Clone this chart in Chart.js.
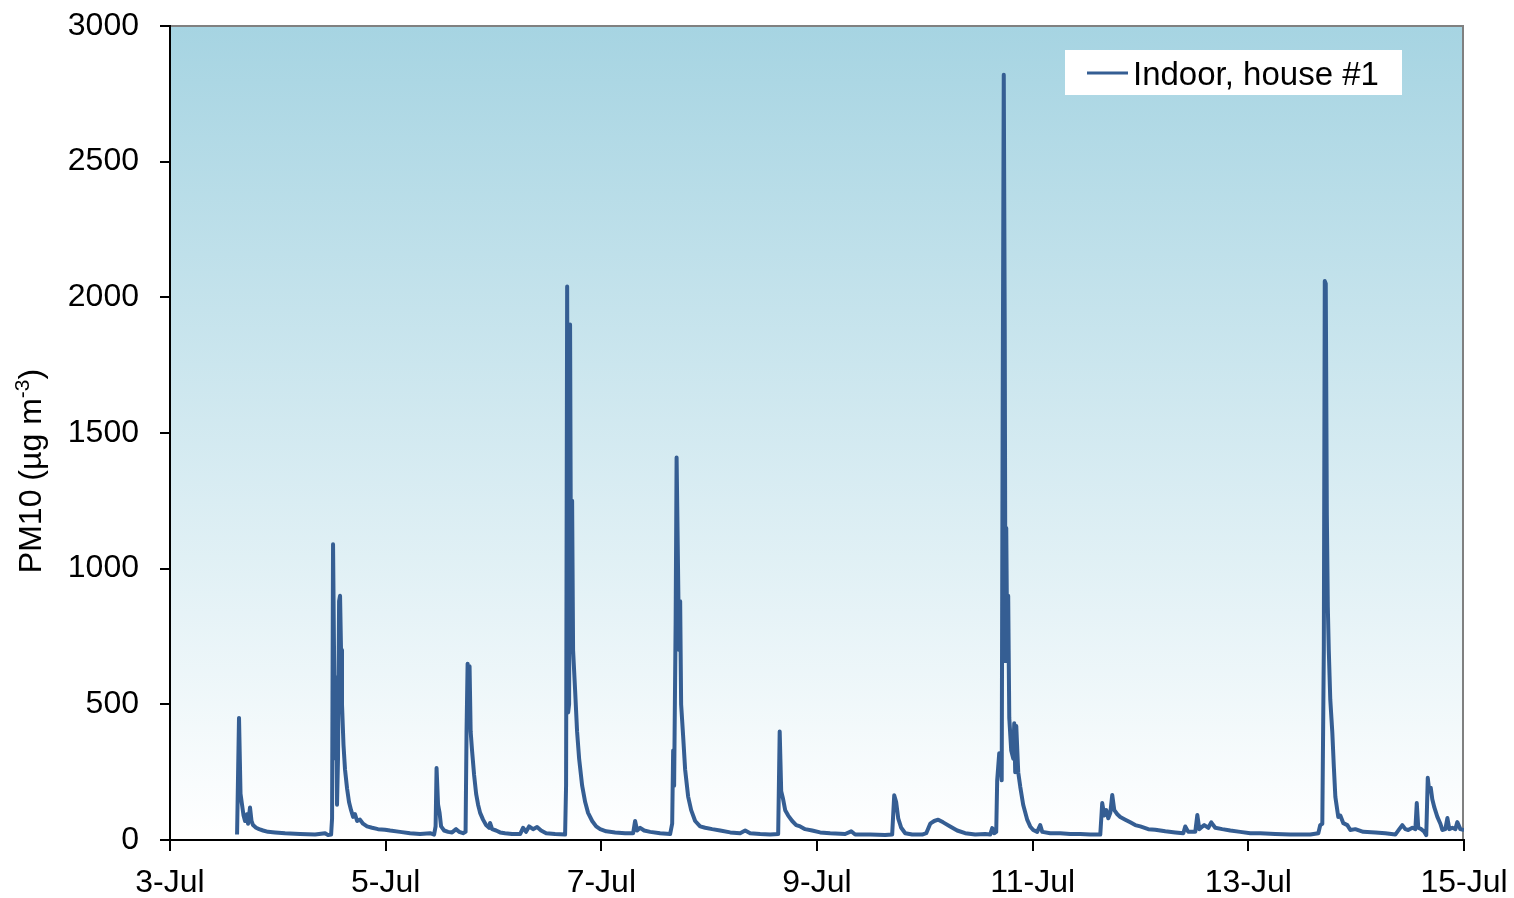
<!DOCTYPE html>
<html lang="en">
<head>
  <meta charset="UTF-8">
  <title>PM10 indoor, house #1</title>
  <script src="https://cdn.jsdelivr.net/npm/chart.js@4.4.1/dist/chart.umd.min.js"></script>
  <style>
    html, body { margin: 0; padding: 0; background: #fff; }
    #wrap { width: 1514px; height: 898px; }
  </style>
</head>
<body>
  <div id="wrap">
    <canvas id="pmChart" width="1514" height="898"></canvas>
  </div>
  <script>
    // time in days since 3-Jul 00:00, PM10 in ug/m3
    const days = [
      0.622, 0.640, 0.654, 0.668, 0.682, 0.696, 0.714, 0.724, 0.742, 0.756, 0.770, 0.798, 0.826, 0.863, 0.909, 0.974,
      1.067, 1.206, 1.345, 1.438, 1.466, 1.494, 1.503, 1.512, 1.521, 1.531, 1.540, 1.549, 1.558, 1.568, 1.577, 1.586,
      1.595, 1.609, 1.623, 1.642, 1.660, 1.679, 1.698, 1.716, 1.735, 1.762, 1.790, 1.827, 1.874, 1.929, 1.994,
      2.041, 2.133, 2.226, 2.319, 2.412, 2.449, 2.463, 2.472, 2.486, 2.500, 2.514, 2.542, 2.579, 2.616, 2.653, 2.681,
      2.718, 2.741, 2.750, 2.760, 2.769, 2.778, 2.788, 2.801, 2.820, 2.839, 2.857, 2.876, 2.903, 2.931, 2.959, 2.968,
      2.987, 3.024, 3.061, 3.107, 3.172, 3.247, 3.274, 3.302, 3.330, 3.367, 3.404, 3.441, 3.488, 3.571, 3.664,
      3.673, 3.683, 3.692, 3.701, 3.710, 3.720, 3.729, 3.738, 3.757, 3.775, 3.794, 3.822, 3.850, 3.877, 3.915, 3.952,
      3.989, 4.045, 4.128, 4.221, 4.295, 4.313, 4.332, 4.360, 4.397, 4.453, 4.545, 4.638, 4.657,
      4.666, 4.675, 4.689, 4.698, 4.708, 4.721, 4.731, 4.740, 4.759, 4.777, 4.805, 4.833, 4.870, 4.916, 4.963,
      5.028, 5.102, 5.195, 5.287, 5.334, 5.380, 5.473, 5.566, 5.640,
      5.654, 5.668, 5.686, 5.705, 5.733, 5.770, 5.807, 5.844, 5.890, 5.955, 6.029, 6.122, 6.261, 6.317, 6.354,
      6.493, 6.632, 6.697, 6.716, 6.734, 6.753, 6.781, 6.818, 6.883, 6.976, 7.013, 7.050, 7.087, 7.124, 7.170,
      7.235, 7.300, 7.374, 7.467, 7.560, 7.606, 7.625, 7.643, 7.662,
      7.671, 7.690, 7.704, 7.713, 7.722, 7.732, 7.741, 7.748, 7.755, 7.764, 7.773, 7.783, 7.801, 7.820, 7.829,
      7.838, 7.848, 7.866, 7.885, 7.912, 7.950, 7.977, 8.005, 8.042, 8.070, 8.089, 8.163, 8.256, 8.348, 8.441,
      8.534, 8.627, 8.645, 8.664, 8.683, 8.701, 8.720, 8.738, 8.757, 8.785, 8.812, 8.859, 8.905, 8.951, 8.998,
      9.072, 9.137, 9.230, 9.322, 9.397, 9.415, 9.443, 9.508, 9.527, 9.545, 9.591, 9.629, 9.656, 9.693, 9.758,
      9.833, 9.925, 10.018, 10.111, 10.250, 10.389, 10.482, 10.575, 10.649,
      10.667, 10.686, 10.700, 10.709, 10.718, 10.728, 10.737, 10.746, 10.760, 10.779, 10.793, 10.807, 10.834,
      10.853, 10.881, 10.918, 10.946, 10.992, 11.066, 11.178, 11.270, 11.363, 11.400, 11.428, 11.456, 11.483,
      11.521, 11.549, 11.562, 11.576, 11.604, 11.632, 11.650, 11.664, 11.678, 11.692, 11.706, 11.725, 11.753,
      11.781, 11.799, 11.827, 11.846, 11.864, 11.892, 11.920, 11.938, 11.966, 12.000
    ];
    const pm10 = [
      20, 450, 170, 130, 90, 70, 95, 60, 120, 70, 55, 45, 40, 35, 30, 28,
      25, 22, 20, 25, 18, 20, 80, 1090, 700, 300, 600, 130, 300, 880, 900, 700,
      500, 350, 260, 190, 140, 110, 85, 95, 70, 75, 60, 50, 45, 40, 38,
      35, 30, 25, 22, 25, 20, 50, 265, 130, 100, 50, 35, 30, 28, 40, 30,
      25, 30, 400, 650, 520, 640, 400, 330, 240, 170, 130, 100, 75, 55, 45, 63,
      40, 35, 28, 25, 22, 22, 45, 30, 50, 40, 48, 35, 25, 22, 20,
      200, 2040, 470, 500, 1900, 800, 1250, 700, 550, 400, 300, 200, 140, 100, 70, 50,
      40, 32, 28, 25, 25, 70, 35, 45, 35, 30, 25, 22, 60,
      330, 200, 800, 1410, 1100, 700, 880, 500, 380, 260, 160, 110, 70, 50, 45,
      40, 35, 28, 25, 35, 25, 22, 20, 22,
      400, 180, 150, 110, 90, 70, 55, 50, 40, 35, 28, 25, 22, 32, 20,
      20, 18, 20, 165, 140, 80, 45, 25, 20, 20, 25, 60, 70, 75, 65,
      50, 35, 25, 20, 22, 20, 44, 25, 30,
      220, 320, 290, 220, 1600, 2820, 1880, 660, 1150, 700, 900, 450, 330, 300, 430,
      250, 420, 250, 196, 130, 74, 50, 37, 30, 55, 30, 25, 25, 22, 22,
      20, 20, 136, 90, 110, 80, 100, 166, 110, 95, 85, 75, 65, 55, 50,
      40, 38, 32, 28, 25, 50, 30, 30, 92, 40, 55, 45, 65, 45, 40,
      35, 30, 25, 25, 22, 20, 20, 20, 25,
      55, 60, 700, 2060, 2050, 1200, 860, 700, 517, 395, 270, 159, 85,
      90, 62, 55, 37, 40, 30, 28, 25, 20, 40, 55, 40, 37,
      45, 40, 136, 45, 40, 30, 18, 229, 180, 192, 150, 120, 85,
      60, 37, 40, 81, 40, 45, 40, 66, 40, 37
    ];
    const dayTicks = ['3-Jul', '5-Jul', '7-Jul', '9-Jul', '11-Jul', '13-Jul', '15-Jul'];
    const seriesLabel = 'Indoor, house #1';

    const FONT = '"Liberation Sans", Arial, sans-serif';
    const lineColor = '#355e93';

    // gradient fill + grey frame on top/right of the plot area
    const plotBackground = {
      id: 'plotBackground',
      beforeDraw(chart) {
        const { ctx, chartArea: a } = chart;
        const g = ctx.createLinearGradient(0, a.top, 0, a.bottom);
        g.addColorStop(0, '#a6d4e2');
        g.addColorStop(1, '#ffffff');
        ctx.save();
        ctx.fillStyle = g;
        ctx.fillRect(a.left, a.top, a.right - a.left, a.bottom - a.top);
        ctx.strokeStyle = '#808080';
        ctx.lineWidth = 2;
        ctx.beginPath();
        ctx.moveTo(a.left, a.top);
        ctx.lineTo(a.right - 1, a.top);
        ctx.lineTo(a.right - 1, a.bottom);
        ctx.stroke();
        ctx.restore();
      }
    };

    // y title with superscript, and the boxed legend in the upper right
    const extras = {
      id: 'extras',
      afterDraw(chart) {
        const { ctx } = chart;
        ctx.save();
        // axis title
        ctx.translate(41, 471);
        ctx.rotate(-Math.PI / 2);
        ctx.fillStyle = '#000';
        ctx.textBaseline = 'alphabetic';
        const main = 'PM10 (\u00b5g m';
        const sup = '-3';
        ctx.font = '32px ' + FONT;
        const w1 = ctx.measureText(main).width;
        const wClose = ctx.measureText(')').width;
        ctx.font = '21px ' + FONT;
        const w2 = ctx.measureText(sup).width;
        const x0 = -(w1 + w2 + wClose) / 2;
        ctx.font = '32px ' + FONT;
        ctx.fillText(main, x0, 0);
        ctx.font = '21px ' + FONT;
        ctx.fillText(sup, x0 + w1, -12);
        ctx.font = '32px ' + FONT;
        ctx.fillText(')', x0 + w1 + w2, 0);
        ctx.restore();

        // legend
        ctx.save();
        ctx.fillStyle = '#fff';
        ctx.fillRect(1065, 50, 337, 45);
        ctx.strokeStyle = lineColor;
        ctx.lineWidth = 3;
        ctx.beginPath();
        ctx.moveTo(1087, 73);
        ctx.lineTo(1128, 73);
        ctx.stroke();
        ctx.fillStyle = '#000';
        ctx.font = '33px ' + FONT;
        ctx.textBaseline = 'alphabetic';
        ctx.fillText(seriesLabel, 1133, 85);
        ctx.restore();
      }
    };

    new Chart(document.getElementById('pmChart'), {
      type: 'line',
      data: {
        datasets: [{
          label: seriesLabel,
          data: days.map((d, i) => ({ x: d, y: pm10[i] })),
          borderColor: lineColor,
          borderWidth: 4,
          borderJoinStyle: 'round',
          pointRadius: 0,
          tension: 0,
          fill: false
        }]
      },
      options: {
        responsive: false,
        animation: false,
        layout: { padding: { left: 0, right: 50, top: 26, bottom: 0 } },
        plugins: {
          legend: { display: false },
          tooltip: { enabled: false }
        },
        scales: {
          x: {
            type: 'linear',
            min: 0,
            max: 12,
            afterFit(scale) {
              scale.height = 58;
              scale.paddingLeft = 0;
              scale.paddingRight = 0;
            },
            afterBuildTicks(scale) {
              scale.ticks = dayTicks.map((_, i) => ({ value: i * 2 }));
            },
            ticks: {
              autoSkip: false,
              maxRotation: 0,
              padding: 13,
              color: '#000',
              font: { family: FONT, size: 32 },
              callback: (v) => dayTicks[Math.round(v / 2)]
            },
            grid: { drawOnChartArea: false, tickLength: 11, color: '#000', lineWidth: 2 },
            border: { color: '#000', width: 2 }
          },
          y: {
            min: 0,
            max: 3000,
            afterFit(scale) {
              scale.width = 170;
              scale.paddingTop = 0;
              scale.paddingBottom = 0;
            },
            ticks: {
              stepSize: 500,
              padding: 21,
              color: '#000',
              font: { family: FONT, size: 32 },
              callback: (v) => String(v)
            },
            grid: { drawOnChartArea: false, tickLength: 10, color: '#000', lineWidth: 2 },
            border: { color: '#000', width: 2 }
          }
        }
      },
      plugins: [plotBackground, extras]
    });
  </script>
</body>
</html>
